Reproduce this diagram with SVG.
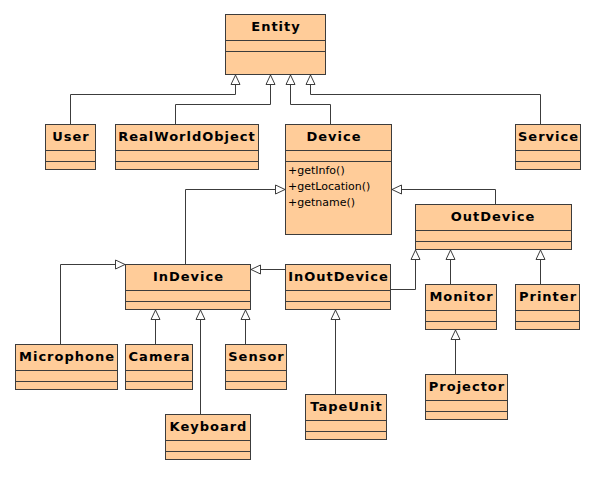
<svg xmlns="http://www.w3.org/2000/svg" width="600" height="480" viewBox="0 0 600 480">
<style>
.box{fill:#FFCC99;stroke:#3C3C3C;stroke-width:1}
.div{stroke:#3C3C3C;stroke-width:1}
.t{font-family:"DejaVu Sans",sans-serif;font-size:13px;font-weight:bold;fill:#000;text-anchor:middle;letter-spacing:1px}
.op{font-family:"DejaVu Sans",sans-serif;font-size:11px;fill:#000}
.c{fill:none;stroke:#3C3C3C;stroke-width:1;marker-end:url(#gen)}
</style>
<defs>
<marker id="gen" viewBox="0 0 10 10" refX="10" refY="5" markerWidth="10" markerHeight="10" markerUnits="userSpaceOnUse" orient="auto" overflow="visible">
<path d="M0.5,0.5 L10,5 L0.5,9.5 Z" fill="#fff" stroke="#3C3C3C" stroke-width="1"/>
</marker>
</defs>
<rect width="600" height="480" fill="#fff"/>
<g id="connectors">
<path class="c" d="M70.5,124 V94.5 H235.5 V75"/>
<path class="c" d="M175.5,124 V104.5 H270.5 V75"/>
<path class="c" d="M330.5,124 V104.5 H290.5 V75"/>
<path class="c" d="M540.5,124 V94.5 H310.5 V75"/>
<path class="c" d="M185.5,264 V189.5 H285"/>
<path class="c" d="M495.5,204 V189.5 H392"/>
<path class="c" d="M60.5,344 V264.5 H125"/>
<path class="c" d="M285,269.5 H251"/>
<path class="c" d="M391,289.5 H415.5 V250"/>
<path class="c" d="M155.5,344 V310"/>
<path class="c" d="M200.5,414 V310"/>
<path class="c" d="M245.5,344 V310"/>
<path class="c" d="M335.5,394 V310"/>
<path class="c" d="M450.5,284 V250"/>
<path class="c" d="M540.5,284 V250"/>
<path class="c" d="M455.5,374 V330"/>
</g>
<g id="Entity">
<rect class="box" x="225.5" y="14.5" width="100" height="60"/>
<path class="div" d="M225.5,40.5 H325.5 M225.5,51.5 H325.5"/>
<text class="t" x="276" y="31">Entity</text>
</g>
<g id="User">
<rect class="box" x="45.5" y="124.5" width="50" height="45"/>
<path class="div" d="M45.5,150.5 H95.5 M45.5,161.5 H95.5"/>
<text class="t" x="71" y="140.5">User</text>
</g>
<g id="RealWorldObject">
<rect class="box" x="115.5" y="124.5" width="143" height="45"/>
<path class="div" d="M115.5,150.5 H258.5 M115.5,161.5 H258.5"/>
<text class="t" x="187" y="140.5">RealWorldObject</text>
</g>
<g id="Device">
<rect class="box" x="285.5" y="124.5" width="106" height="110"/>
<path class="div" d="M285.5,150.5 H391.5 M285.5,161.5 H391.5"/>
<text class="t" x="334" y="140.5">Device</text>
<text class="op" x="288" y="174">+getInfo()</text>
<text class="op" x="288" y="190">+getLocation()</text>
<text class="op" x="288" y="206">+getname()</text>
</g>
<g id="Service">
<rect class="box" x="515.5" y="124.5" width="65" height="45"/>
<path class="div" d="M515.5,150.5 H580.5 M515.5,161.5 H580.5"/>
<text class="t" x="548.5" y="140.5">Service</text>
</g>
<g id="OutDevice">
<rect class="box" x="415.5" y="204.5" width="156" height="45"/>
<path class="div" d="M415.5,230.5 H571.5 M415.5,241.5 H571.5"/>
<text class="t" x="493" y="220.5">OutDevice</text>
</g>
<g id="InDevice">
<rect class="box" x="125.5" y="264.5" width="125" height="45"/>
<path class="div" d="M125.5,290.5 H250.5 M125.5,301.5 H250.5"/>
<text class="t" x="188.5" y="280.5">InDevice</text>
</g>
<g id="InOutDevice">
<rect class="box" x="285.5" y="264.5" width="105" height="45"/>
<path class="div" d="M285.5,290.5 H390.5 M285.5,301.5 H390.5"/>
<text class="t" x="338.5" y="280.5">InOutDevice</text>
</g>
<g id="Monitor">
<rect class="box" x="425.5" y="284.5" width="71" height="45"/>
<path class="div" d="M425.5,310.5 H496.5 M425.5,321.5 H496.5"/>
<text class="t" x="461.5" y="300.5">Monitor</text>
</g>
<g id="Printer">
<rect class="box" x="515.5" y="284.5" width="64" height="45"/>
<path class="div" d="M515.5,310.5 H579.5 M515.5,321.5 H579.5"/>
<text class="t" x="548" y="300.5">Printer</text>
</g>
<g id="Microphone">
<rect class="box" x="15.5" y="344.5" width="102" height="45"/>
<path class="div" d="M15.5,370.5 H117.5 M15.5,381.5 H117.5"/>
<text class="t" x="67" y="360.5">Microphone</text>
</g>
<g id="Camera">
<rect class="box" x="125.5" y="344.5" width="67" height="45"/>
<path class="div" d="M125.5,370.5 H192.5 M125.5,381.5 H192.5"/>
<text class="t" x="159.5" y="360.5">Camera</text>
</g>
<g id="Sensor">
<rect class="box" x="225.5" y="344.5" width="61" height="45"/>
<path class="div" d="M225.5,370.5 H286.5 M225.5,381.5 H286.5"/>
<text class="t" x="256.5" y="360.5">Sensor</text>
</g>
<g id="Projector">
<rect class="box" x="425.5" y="374.5" width="82" height="45"/>
<path class="div" d="M425.5,400.5 H507.5 M425.5,411.5 H507.5"/>
<text class="t" x="467" y="390.5">Projector</text>
</g>
<g id="TapeUnit">
<rect class="box" x="305.5" y="394.5" width="81" height="45"/>
<path class="div" d="M305.5,420.5 H386.5 M305.5,431.5 H386.5"/>
<text class="t" x="346.5" y="410.5">TapeUnit</text>
</g>
<g id="Keyboard">
<rect class="box" x="165.5" y="414.5" width="85" height="45"/>
<path class="div" d="M165.5,440.5 H250.5 M165.5,451.5 H250.5"/>
<text class="t" x="208.5" y="430.5">Keyboard</text>
</g>
</svg>
